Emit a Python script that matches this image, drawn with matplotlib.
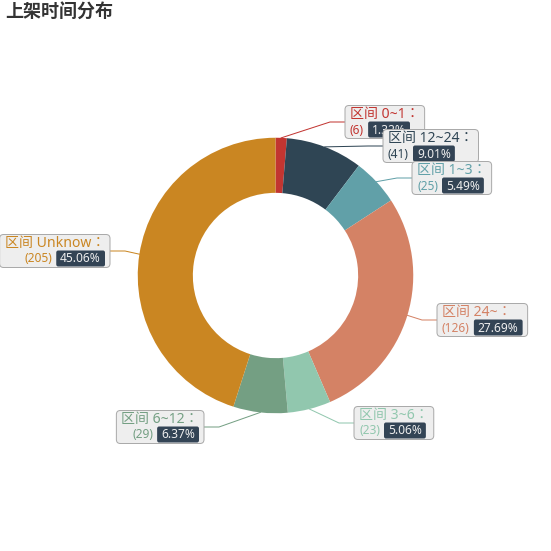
import math
import matplotlib
matplotlib.use("Agg")
import matplotlib.pyplot as plt
from matplotlib.patches import FancyBboxPatch

W = H = 551
FONT = ["Noto Sans", "Noto Sans CJK TC", "DejaVu Sans"]
TITLE_FONT = ["Noto Sans CJK SC", "DejaVu Sans"]
PX = 72 / 100  # points per pixel at dpi 100

categories = ["区间 0~1", "区间 12~24", "区间 1~3", "区间 24~", "区间 3~6", "区间 6~12", "区间 Unknow"]
counts = [6, 41, 25, 126, 23, 29, 205]
colors = ["#c23531", "#2f4554", "#61a0a8", "#d48265", "#91c7ae", "#749f83", "#ca8622"]

# where each label line ends (pixels, y from top) -- label box sits next to it
label_ends = [(345, 122), (383, 146), (412, 178), (437, 320), (354, 423), (204, 427), (110, 251)]

CX, CY = W / 2, H / 2
R_OUT = 0.5 * min(W, H) / 2
R_IN = 0.3 * min(W, H) / 2


def Y(y):
    return H - y


def percents(vals, digits=2):
    # largest remainder, like echarts getPercentWithPrecision
    scale = 10 ** digits * 100
    total = sum(vals)
    raw = [v / total * scale for v in vals]
    base = [math.floor(r) for r in raw]
    left = int(scale - sum(base))
    order = sorted(range(len(vals)), key=lambda i: raw[i] - base[i], reverse=True)
    for i in order[:left]:
        base[i] += 1
    return [f"{b / 10 ** digits:.2f}%" for b in base]


fig = plt.figure(figsize=(W / 100, H / 100), dpi=100)
ax = fig.add_axes([0, 0, 1, 1])
ax.pie(counts, colors=colors, startangle=90, counterclock=False,
       radius=R_OUT, center=(CX, Y(CY)),
       wedgeprops=dict(width=R_OUT - R_IN, linewidth=0))
ax.set_xlim(0, W)
ax.set_ylim(0, H)
ax.set_aspect("equal")
ax.axis("off")

fig.text(5 / W, 1 - 4 / H, "上架时间分布", fontsize=18 * PX, fontweight="bold",
         color="#333333", family=TITLE_FONT, va="top", ha="left")

renderer = fig.canvas.get_renderer()


def text_w(s, size):
    t = ax.text(0, 0, s, fontsize=size, family=FONT)
    w = t.get_window_extent(renderer).width
    t.remove()
    return w


pers = percents(counts)
total = sum(counts)
cum = 0
for i, (name, c, col, per) in enumerate(zip(categories, counts, colors, pers)):
    mid = (cum + c / 2) / total * 2 * math.pi
    cum += c
    x0 = CX + R_OUT * math.sin(mid)
    y0 = CY - R_OUT * math.cos(mid)
    x2, y2 = label_ends[i]
    right = x0 > CX
    x1 = x2 - 15 if right else x2 + 15
    z = 10 + i
    ax.plot([x0, x1, x2], [Y(y0), Y(y2), Y(y2)], color=col, lw=1 * PX, zorder=z)

    line1 = name + "："
    line2a = f"({c})"
    w1 = text_w(line1, 14 * PX)
    wa = text_w(line2a, 12 * PX)
    wp = text_w(per, 12 * PX)
    w2 = wa + 4 + wp + 8
    pad = 5
    bw = max(w1, w2) + 2 * pad
    bh = 33
    top = y2 - bh / 2
    left = x2 if right else x2 - bw
    ax.add_patch(FancyBboxPatch((left, Y(top + bh)), bw, bh,
                                boxstyle="round,pad=0,rounding_size=4",
                                fc="#eeeeee", ec="#aaaaaa", lw=1 * PX, zorder=z))
    ax.text(left + pad, Y(top + 9), line1, fontsize=14 * PX, color=col,
            family=FONT, va="center", ha="left", zorder=z)
    if right:
        sx = left + pad
    else:
        sx = left + bw - pad - w2
    ax.text(sx, Y(top + 24.5), line2a, fontsize=12 * PX, color=col,
            family=FONT, va="center", ha="left", zorder=z)
    px = sx + wa + 4
    ax.add_patch(FancyBboxPatch((px, Y(top + 32)), wp + 8, 16,
                                boxstyle="round,pad=0,rounding_size=2",
                                fc="#334455", ec="none", zorder=z))
    ax.text(px + 4, Y(top + 24.5), per, fontsize=12 * PX, color="#eeeeee",
            family=FONT, va="center", ha="left", zorder=z)

fig.savefig("out.png", dpi=100, facecolor="white")
